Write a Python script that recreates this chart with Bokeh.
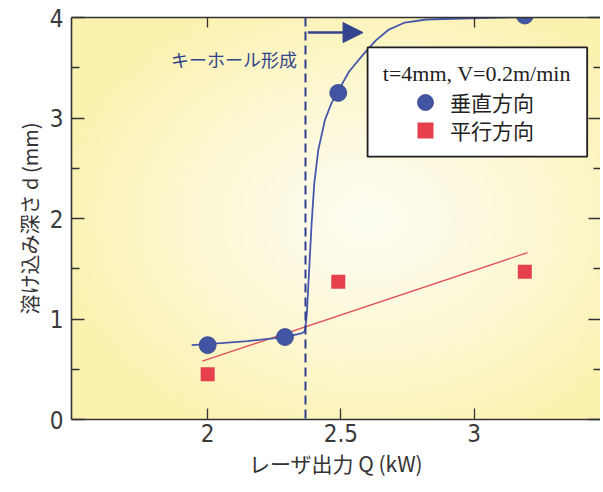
import numpy as np
from bokeh.plotting import figure
from bokeh.models import (Range1d, LinearAxis, FixedTicker, Span, Arrow, NormalHead,
                          Label, BoxAnnotation, Legend, LegendItem)
from bokeh.embed import file_html
from bokeh.resources import INLINE

# ---------------- data ----------------
perp_q = [2.0, 2.29, 2.49, 3.19]          # 垂直方向 measured points
perp_d = [0.74, 0.82, 3.25, 4.02]
para_q = [2.0, 2.49, 3.19]                # 平行方向 measured points
para_d = [0.45, 1.37, 1.47]

perp_fit_q = [1.94, 2.05, 2.15, 2.29, 2.355, 2.365, 2.372, 2.38, 2.39, 2.40, 2.415,
              2.44, 2.465, 2.49, 2.53, 2.58, 2.63, 2.68, 2.74, 2.82, 2.95, 3.10, 3.28]
perp_fit_d = [0.74, 0.76, 0.78, 0.82, 0.86, 0.88, 1.05, 1.45, 1.95, 2.35, 2.68,
              2.98, 3.15, 3.27, 3.46, 3.62, 3.77, 3.88, 3.95, 3.98, 3.99, 4.00, 4.01]
para_fit_q = [1.98, 3.20]
para_fit_d = [0.58, 1.66]

keyhole_q = 2.367
x_ticks = [2, 2.5, 3]
top_ticks = [2, 3]
y_ticks = [0, 1, 2, 3, 4]
y_minor = [0.5, 1.5, 2.5, 3.5]

X_START, X_END = 1.489, 3.474
Y_START, Y_END = 0.0, 4.0

# ---------------- figure ----------------
p = figure(width=600, height=490, x_range=Range1d(X_START, X_END),
           y_range=Range1d(Y_START, Y_END), output_backend="svg",
           toolbar_location=None, x_axis_location=None, y_axis_location=None,
           min_border_left=71, min_border_top=17, min_border_bottom=71, min_border_right=0)
p.outline_line_color = None
p.background_fill_color = "#fbf4c6"
p.border_fill_color = "white"
for g in p.grid:
    g.visible = False

# soft yellow background (decoration only)
nx, ny = 120, 100
GX, GY = np.meshgrid(np.linspace(X_START, X_END, nx), np.linspace(Y_START, Y_END, ny))
r = np.sqrt(((GX - 2.6) / 1.2) ** 2 + ((GY - 2.0) / 2.4) ** 2)
t = np.clip(r, 0, 1) ** 1.2
c0 = np.array([254, 253, 242])
c1 = np.array([251, 242, 176])
img = np.empty((ny, nx), dtype=np.uint32)
view = img.view(dtype=np.uint8).reshape((ny, nx, 4))
for k in range(3):
    view[:, :, k] = (c0[k] * (1 - t) + c1[k] * t).astype(np.uint8)
view[:, :, 3] = 255
p.image_rgba(image=[img], x=X_START, y=Y_START, dw=X_END - X_START, dh=Y_END - Y_START)

AX = "#333333"
TICKFONT = "'Liberation Sans Narrow', 'DejaVu Sans Condensed', sans-serif"


def style(ax, tick_in, minor_in=0, labels=True):
    ax.axis_line_color = AX
    ax.axis_line_width = 1.6
    ax.major_tick_in = tick_in
    ax.major_tick_out = 0
    ax.minor_tick_in = minor_in
    ax.minor_tick_out = 0
    ax.major_tick_line_color = AX
    ax.major_tick_line_width = 1.3
    ax.minor_tick_line_color = AX
    ax.minor_tick_line_width = 1.3
    ax.major_label_text_font = TICKFONT
    if labels:
        ax.major_label_text_color = "#3a3a3a"
        ax.major_label_text_font_size = "24px"
    else:
        ax.major_label_text_color = None
        ax.major_label_text_font_size = "1px"
        ax.major_label_standoff = 0
    ax.axis_label_text_font = "Noto Sans CJK JP"
    ax.axis_label_text_font_style = "normal"
    ax.axis_label_text_color = "#333333"


yl = LinearAxis(ticker=FixedTicker(ticks=y_ticks, minor_ticks=y_minor),
                axis_label="溶け込み深さ d (mm)")
style(yl, 13, 8)
yl.major_label_standoff = 8
yl.axis_label_standoff = 3
yl.axis_label_text_font_size = "20px"
p.add_layout(yl, "left")

xb = LinearAxis(ticker=FixedTicker(ticks=x_ticks, minor_ticks=[]),
                axis_label="レーザ出力 Q (kW)")
style(xb, 11)
xb.major_label_standoff = 4
xb.axis_label_standoff = 3
xb.axis_label_text_font_size = "21px"
p.add_layout(xb, "below")

xt = LinearAxis(ticker=FixedTicker(ticks=top_ticks, minor_ticks=[]))
style(xt, 10, labels=False)
p.add_layout(xt, "above")

yr = LinearAxis(ticker=FixedTicker(ticks=y_ticks, minor_ticks=y_minor))
style(yr, 12, 7, labels=False)
yr.axis_line_color = None
p.add_layout(yr, "right")

# ---------------- data glyphs ----------------
p.line(para_fit_q, para_fit_d, line_color="#e2525c", line_width=1.3)
p.line(perp_fit_q, perp_fit_d, line_color="#4657ad", line_width=1.8)
r_perp = p.scatter(perp_q, perp_d, marker="circle", size=17,
                   fill_color="#4155a3", line_color="#34468f", line_width=0.8)
r_para = p.scatter(para_q, para_d, marker="square", size=14,
                   fill_color="#e6404c", line_color=None)

# keyhole threshold
p.add_layout(Span(location=keyhole_q, dimension="height", line_color="#2f3f8f",
                  line_width=2, line_dash="9 5"))
p.add_layout(Arrow(x_start=2.376, y_start=3.85, x_end=2.583, y_end=3.85,
                   line_color="#33448f", line_width=2.5,
                   end=NormalHead(size=20, fill_color="#33448f", line_color="#33448f")))
p.add_layout(Label(x=2.335, y=3.59, text="キーホール形成", text_align="right",
                   text_baseline="middle", text_font="Noto Sans CJK JP",
                   text_font_size="18px", text_color="#33458a"))

# legend box
p.add_layout(BoxAnnotation(left=2.600, right=3.424, bottom=2.615, top=3.702,
                           fill_color="white", fill_alpha=1.0,
                           line_color="#1e1e1e", line_alpha=1.0, line_width=1.8))
p.add_layout(Label(x=3.010, y=3.443, text="t=4mm, V=0.2m/min", text_align="center",
                   text_baseline="middle", text_font="Liberation Serif",
                   text_font_size="22px", text_color="#222222"))


def make_legend(label, renderer, loc):
    return Legend(items=[LegendItem(label=label, renderers=[renderer])],
                  location=loc, padding=0, spacing=0, margin=0,
                  glyph_width=40, glyph_height=40, label_standoff=5,
                  label_text_font="Noto Sans CJK JP", label_text_font_size="21px",
                  label_text_color="#222222",
                  border_line_alpha=0, background_fill_alpha=0)


p.add_layout(make_legend("垂直方向", r_perp, (334, 297)))
p.add_layout(make_legend("平行方向", r_para, (334, 269)))

open("out.html", "w").write(file_html(p, INLINE))
